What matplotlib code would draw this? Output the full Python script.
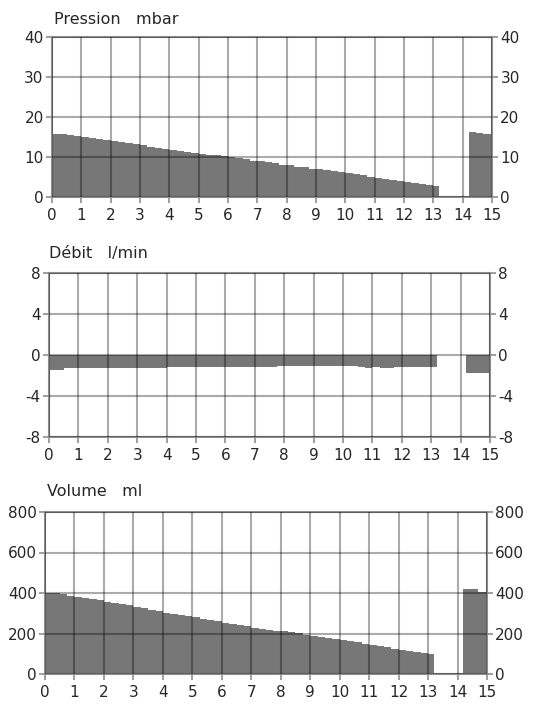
import numpy as np
import matplotlib
matplotlib.use("Agg")
import matplotlib.pyplot as plt

plt.rcParams["font.family"] = ["DejaVu Sans"]
plt.rcParams["axes.unicode_minus"] = False

# Time base (s): main phase sampled every 0.25 s, ending at 13.2 s
t_main = np.append(np.arange(0, 13.01, 0.25), 13.2)
# Second short phase
t_end = [14.2, 14.45, 14.7, 15.0]

# Pressure (mbar)
pression_main = [15.8, 15.7, 15.5, 15.2, 14.9, 14.7, 14.5, 14.2, 14.0, 13.8,
                 13.5, 13.2, 12.9, 12.6, 12.3, 12.0, 11.7, 11.5, 11.3, 11.1,
                 10.8, 10.6, 10.4, 10.2, 10.0, 9.8, 9.6, 9.0, 8.9, 8.7,
                 8.4, 8.1, 7.9, 7.6, 7.4, 7.1, 6.9, 6.7, 6.5, 6.2,
                 6.0, 5.8, 5.5, 5.1, 4.8, 4.6, 4.3, 4.0, 3.8, 3.5,
                 3.3, 3.0, 2.8]
pression_end = [16.3, 16.1, 15.8]

# Flow (l/min)
debit_main = [-1.5, -1.45, -1.3, -1.3, -1.3, -1.3, -1.3, -1.3, -1.3, -1.3,
              -1.3, -1.3, -1.3, -1.3, -1.3, -1.3, -1.15, -1.15, -1.15, -1.15,
              -1.15, -1.15, -1.15, -1.15, -1.15, -1.15, -1.15, -1.15, -1.15, -1.15,
              -1.15, -1.1, -1.1, -1.1, -1.1, -1.1, -1.1, -1.1, -1.1, -1.1,
              -1.1, -1.1, -1.15, -1.25, -1.2, -1.3, -1.3, -1.15, -1.2, -1.2,
              -1.2, -1.2, -1.2]
debit_end = [-1.8, -1.8, -1.8]

# Volume (ml)
volume_main = [398, 398, 396, 385, 382, 377, 370, 364, 357, 352,
               346, 340, 333, 326, 318, 310, 303, 298, 292, 286,
               280, 274, 268, 261, 254, 248, 242, 235, 229, 224,
               218, 214, 210, 207, 203, 195, 186, 184, 180, 175,
               168, 163, 156, 149, 143, 138, 131, 125, 119, 116,
               110, 104, 98]
volume_end = [420, 418, 405]

x_ticks = list(range(0, 16))

panels = [
    dict(title="Pression   mbar", main=pression_main, end=pression_end,
         yticks=[0, 10, 20, 30, 40], ylim=(0, 40),
         rect=[52 / 540, 1 - 197 / 714, 440 / 540, 160 / 714],
         title_xy=(54, 19)),
    dict(title="Débit   l/min", main=debit_main, end=debit_end,
         yticks=[-8, -4, 0, 4, 8], ylim=(-8, 8),
         rect=[49 / 540, 1 - 437 / 714, 441 / 540, 164 / 714],
         title_xy=(49, 253)),
    dict(title="Volume   ml", main=volume_main, end=volume_end,
         yticks=[0, 200, 400, 600, 800], ylim=(0, 800),
         rect=[45 / 540, 1 - 674 / 714, 442 / 540, 162 / 714],
         title_xy=(47, 492)),
]

fill_color = "#777777"
grid_color = "#8e8e8e"
text_color = "#262626"

fig = plt.figure(figsize=(5.4, 7.14), dpi=100)
fig.patch.set_facecolor("white")

for p in panels:
    ax = fig.add_axes(p["rect"])
    ax.stairs(p["main"], t_main, fill=True, baseline=0, color=fill_color,
              zorder=1, linewidth=0)
    ax.stairs(p["end"], t_end, fill=True, baseline=0, color=fill_color,
              zorder=1, linewidth=0)
    ax.set_xlim(0, 15)
    ax.set_ylim(*p["ylim"])
    ax.set_xticks(x_ticks)
    ax.set_xticklabels([str(v) for v in x_ticks])
    ax.set_yticks(p["yticks"])
    ax.set_yticklabels([str(v) for v in p["yticks"]])
    ax.grid(True, color="black", alpha=0.33, linewidth=1.5, zorder=2)
    ax.set_axisbelow(False)
    for s in ax.spines.values():
        s.set_color(grid_color)
        s.set_linewidth(1.5)
    ax.tick_params(axis="x", direction="out", length=4, width=1.2,
                   color=grid_color, labelsize=11, pad=4,
                   labelcolor=text_color)
    ax.tick_params(axis="y", direction="out", length=4, width=1.2,
                   color=grid_color, labelsize=11, pad=2,
                   labelcolor=text_color, left=True, right=True,
                   labelleft=True, labelright=True)
    fig.text(p["title_xy"][0] / 540, 1 - p["title_xy"][1] / 714, p["title"],
             fontsize=11.5, color=text_color, ha="left", va="center")

fig.savefig("out.png", dpi=100, facecolor="white")
